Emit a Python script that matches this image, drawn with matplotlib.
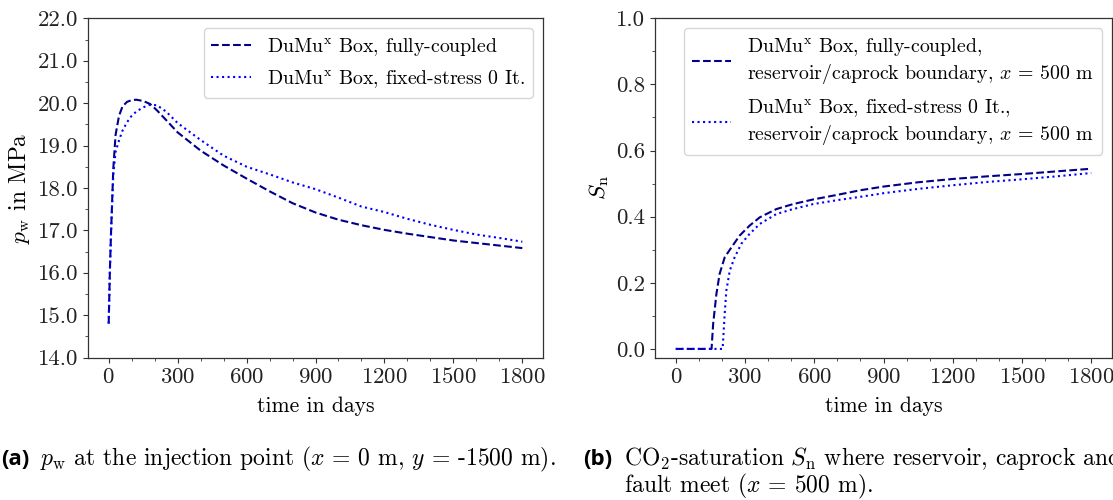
import matplotlib
matplotlib.use("Agg")
import matplotlib.pyplot as plt
from matplotlib.ticker import MultipleLocator, AutoMinorLocator, FormatStrFormatter

# ---------------------------------------------------------------- data
# (a) water pressure at the injection point, MPa
t_p_coupled = [0, 5, 10, 20, 30, 45, 60, 80, 100, 120, 150, 180, 210, 250, 300,
               400, 500, 600, 700, 800, 900, 1000, 1100, 1200, 1300, 1400,
               1500, 1600, 1700, 1800]
p_coupled = [14.8, 16.0, 16.9, 18.45, 19.25, 19.7, 19.92, 20.03, 20.07, 20.08,
             20.05, 19.98, 19.83, 19.6, 19.31, 18.88, 18.53, 18.22, 17.92,
             17.64, 17.42, 17.25, 17.12, 17.01, 16.92, 16.84, 16.76, 16.70,
             16.64, 16.58]

t_p_fixed = [0, 5, 10, 20, 30, 45, 60, 80, 100, 120, 150, 180, 210, 250, 300,
             400, 500, 600, 700, 800, 900, 1000, 1100, 1200, 1300, 1400, 1500,
             1600, 1700, 1800]
p_fixed = [14.8, 16.0, 16.9, 18.3, 18.85, 19.12, 19.35, 19.55, 19.7, 19.8,
           19.9, 19.96, 19.95, 19.8, 19.53, 19.13, 18.76, 18.5, 18.32, 18.13,
           17.97, 17.77, 17.56, 17.43, 17.27, 17.13, 17.01, 16.9, 16.82, 16.73]

# (b) CO2 saturation at the reservoir/caprock boundary, x = 500 m
t_s_coupled = [0, 100, 155, 162, 176, 190, 212, 241, 277, 320, 364, 436, 508,
               595, 700, 800, 900, 1050, 1200, 1350, 1500, 1650, 1800]
s_coupled = [0.0, 0.0, 0.0, 0.076, 0.166, 0.227, 0.277, 0.307, 0.343, 0.373,
             0.398, 0.423, 0.438, 0.452, 0.466, 0.480, 0.491, 0.504, 0.514,
             0.522, 0.529, 0.537, 0.545]

t_s_fixed = [0, 100, 203, 212, 219, 234, 255, 284, 320, 364, 436, 508, 595,
             700, 800, 900, 1050, 1200, 1350, 1500, 1650, 1800]
s_fixed = [0.0, 0.0, 0.0, 0.106, 0.176, 0.237, 0.277, 0.318, 0.348, 0.378,
           0.408, 0.423, 0.438, 0.450, 0.460, 0.471, 0.484, 0.495, 0.505,
           0.513, 0.522, 0.532]

label_coupled = r"DuMu$^\mathrm{x}$ Box, fully-coupled"
label_fixed = r"DuMu$^\mathrm{x}$ Box, fixed-stress 0 It."
label_s_coupled = ("DuMu$^\\mathrm{x}$ Box, fully-coupled,\n"
                   "reservoir/caprock boundary, $x$ = 500 m")
label_s_fixed = ("DuMu$^\\mathrm{x}$ Box, fixed-stress 0 It.,\n"
                 "reservoir/caprock boundary, $x$ = 500 m")

# ---------------------------------------------------------------- style
FS_TICK = 16.4
FS_LABEL = 15.6
FS_YLABEL = 16.8
FS_LEGEND = 14.3
FS_CAP = 17.0
plt.rcParams.update({
    "font.family": "serif",
    "font.serif": ["cmr10"],
    "mathtext.fontset": "cm",
    "axes.formatter.use_mathtext": True,
    "axes.unicode_minus": False,
    "font.size": FS_TICK,
    "axes.linewidth": 0.9,
    "axes.edgecolor": "#333333",
    "xtick.color": "#333333",
    "ytick.color": "#333333",
    "xtick.labelcolor": "#222222",
    "ytick.labelcolor": "#222222",
    "xtick.labelsize": FS_TICK,
    "ytick.labelsize": FS_TICK,
})

C_DASH = "#00008b"
C_DOT = "#0000ff"

fig = plt.figure(figsize=(11.13, 5.0), dpi=100)
ax1 = fig.add_axes([88 / 1113, 1 - 357.5 / 500, 455 / 1113, 339.2 / 500])
ax2 = fig.add_axes([655 / 1113, 1 - 357.5 / 500, 457 / 1113, 339.2 / 500])

# (a) pressure
ax1.plot(t_p_coupled, p_coupled, ls="--", color=C_DASH, lw=1.5, label=label_coupled)
ax1.plot(t_p_fixed, p_fixed, ls=":", color=C_DOT, lw=1.5, label=label_fixed)
ax1.set_xlim(-90, 1890)
ax1.set_ylim(14.0, 22.0)
ax1.yaxis.set_major_locator(MultipleLocator(1.0))
ax1.yaxis.set_minor_locator(AutoMinorLocator(2))
ax1.yaxis.set_major_formatter(FormatStrFormatter("%.1f"))
ax1.set_ylabel(r"$p_\mathrm{w}$ in MPa", fontsize=FS_YLABEL)
ax1.legend(loc="upper right", fontsize=FS_LEGEND)

# (b) saturation
ax2.plot(t_s_coupled, s_coupled, ls="--", color=C_DASH, lw=1.5, label=label_s_coupled)
ax2.plot(t_s_fixed, s_fixed, ls=":", color=C_DOT, lw=1.5, label=label_s_fixed)
ax2.set_xlim(-90, 1890)
ax2.set_ylim(-0.026, 1.0)
ax2.yaxis.set_major_locator(MultipleLocator(0.2))
ax2.yaxis.set_minor_locator(AutoMinorLocator(2))
ax2.yaxis.set_major_formatter(FormatStrFormatter("%.1f"))
ax2.set_ylabel(r"$S_\mathrm{n}$", fontsize=FS_YLABEL)
ax2.legend(loc="upper right", fontsize=FS_LEGEND, labelspacing=0.6)

for ax in (ax1, ax2):
    ax.xaxis.set_major_locator(MultipleLocator(300))
    ax.xaxis.set_minor_locator(AutoMinorLocator(3))
    ax.set_xlabel("time in days", fontsize=FS_LABEL, labelpad=7)
    ax.tick_params(which="both", top=False, right=False, direction="out")

# sub-figure captions
cap_font = dict(family="Open Sans", weight="bold", size=FS_CAP - 1)
fig.text(1 / 1113, 1 - 465 / 500, "(a)", ha="left", va="baseline", **cap_font)
fig.text(40 / 1113, 1 - 465 / 500,
         r"$p_\mathrm{w}$ at the injection point ($x$ = 0 m, $y$ = -1500 m).",
         ha="left", va="baseline", fontsize=FS_CAP)
fig.text(583 / 1113, 1 - 465 / 500, "(b)", ha="left", va="baseline", **cap_font)
fig.text(624 / 1113, 1 - 465 / 500,
         r"CO$_2$-saturation $S_\mathrm{n}$ where reservoir, caprock and",
         ha="left", va="baseline", fontsize=FS_CAP)
fig.text(624 / 1113, 1 - 492 / 500, r"fault meet ($x$ = 500 m).",
         ha="left", va="baseline", fontsize=FS_CAP)

fig.savefig("out.png", dpi=100)
